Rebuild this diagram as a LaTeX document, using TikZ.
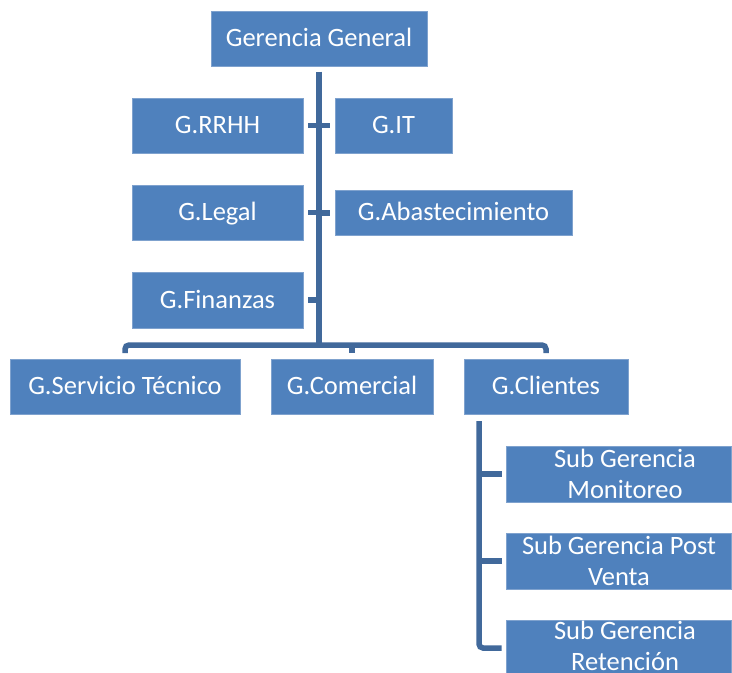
\documentclass[tikz,border=0pt]{standalone}
\usepackage{fontspec}
\setmainfont{Carlito}
\usetikzlibrary{calc}
\definecolor{boxblue}{HTML}{4F81BD}
\definecolor{boxedge}{HTML}{7FA2CE}
\definecolor{lineblue}{HTML}{41699B}
\begin{document}
\begin{tikzpicture}[x=1pt, y=-1pt,
  box/.style={draw=boxedge, line width=0.8pt, fill=boxblue, text=white,
    inner sep=0pt, outer sep=0pt, align=center,
    font=\fontsize{26.5}{31}\selectfont, text height=17pt, text depth=1pt},
  boxtext/.style={text=white, inner sep=0pt, align=center,
    font=\fontsize{26.5}{30.5}\selectfont},
  conn/.style={draw=lineblue, line width=5.5pt}]
\useasboundingbox (0,0) rectangle (732,673);

% top level
\node[box, minimum width=216pt, minimum height=55pt] (gg) at (319,38.5) {Gerencia General};

% staff units beside the trunk
\node[box, minimum width=171pt, minimum height=55pt] (rrhh) at (217.5,125.5) {G.RRHH};
\node[box, minimum width=117pt, minimum height=55pt] (it) at (393.5,125.5) {G.IT};
\node[box, minimum width=171pt, minimum height=55pt] (legal) at (217.5,212.5) {G.Legal};
\node[box, minimum width=237pt, minimum height=45pt] (abas) at (453.5,212.8) {G.Abastecimiento};
\node[box, minimum width=171pt, minimum height=56pt] (fin) at (217.5,300) {G.Finanzas};

% line units
\node[box, minimum width=230pt, minimum height=55pt] (serv) at (125,386.5) {G.Servicio Técnico};
\node[box, minimum width=162pt, minimum height=55pt] (com) at (352,386.5) {G.Comercial};
\node[box, minimum width=164pt, minimum height=55pt] (cli) at (546,386.5) {G.Clientes};

% sub units of G.Clientes
\node[box, minimum width=225pt, minimum height=56pt] (mon) at (618.5,474) {};
\node[boxtext] (monT) at (625,474) {Sub Gerencia\\Monitoreo};
\node[box, minimum width=225pt, minimum height=56pt] (pv) at (618.5,561) {};
\node[boxtext] (pvT) at (619,561) {Sub Gerencia Post\\Venta};
\node[box, minimum width=225pt, minimum height=56pt] (ret) at (618.5,648) {};
\node[boxtext] (retT) at (625,646) {Sub Gerencia\\Retención};

% trunk and horizontal bus
\coordinate (bus) at (319,345);
\draw[conn, line width=6pt, shorten <=5.7pt] (gg.south) -- ($(bus)+(0,2.5)$);
\draw[conn, rounded corners=4pt, shorten <=6pt, shorten >=6pt]
  (serv.north) |- (bus) -| (cli.north);
\draw[conn, shorten >=6pt] (bus -| com.north) -- (com.north);

% ticks from the trunk to the staff units
\draw[conn, shorten <=5.4pt] (rrhh.east) -- (rrhh.east -| bus);
\draw[conn, shorten <=5.4pt] (legal.east) -- (legal.east -| bus);
\draw[conn, shorten <=5.4pt] (fin.east) -- (fin.east -| bus);
\draw[conn, shorten <=5.4pt] (it.west) -- (it.west -| bus);
\draw[conn, shorten <=5.4pt] (abas.west) -- (abas.west -| bus);

% bracket under G.Clientes
\coordinate (sb) at ($(cli.south west)+(15,7)$);
\draw[conn, rounded corners=4pt, shorten >=4.3pt] (sb) |- (ret.west);
\draw[conn, shorten >=4.3pt] (sb |- mon.west) -- (mon.west);
\draw[conn, shorten >=4.3pt] (sb |- pv.west) -- (pv.west);
\end{tikzpicture}
\end{document}
